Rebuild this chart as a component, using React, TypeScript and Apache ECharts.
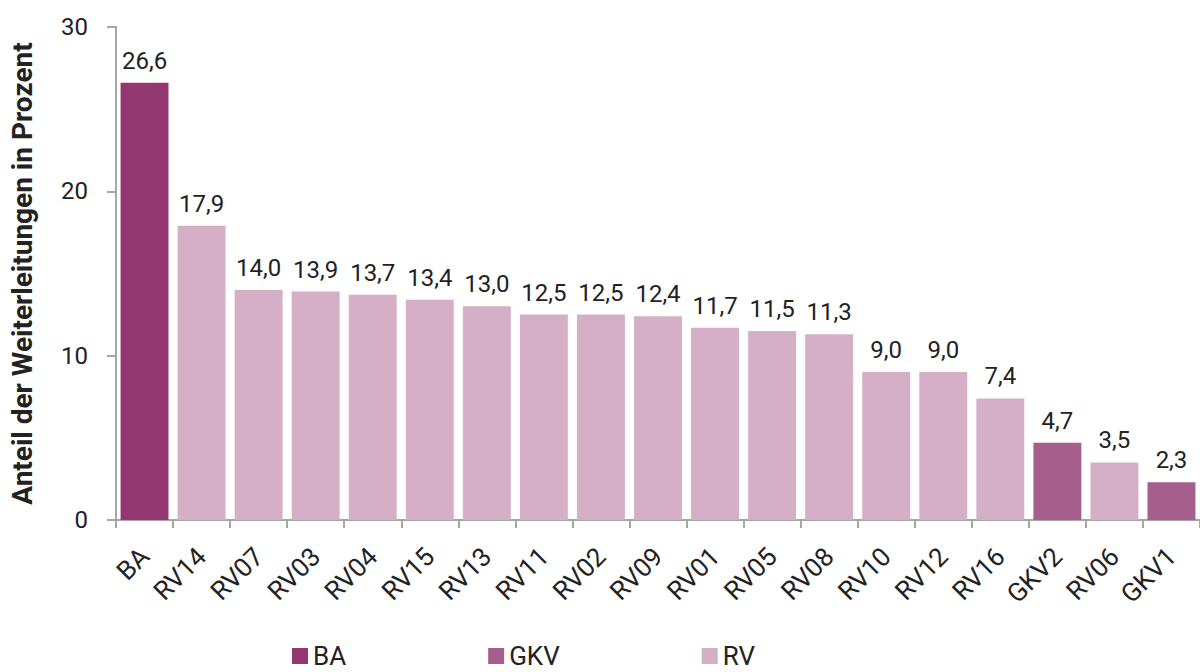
import React, { useEffect, useRef } from "react";
import * as echarts from "echarts";

const categories = ["BA","RV14","RV07","RV03","RV04","RV15","RV13","RV11","RV02","RV09","RV01","RV05","RV08","RV10","RV12","RV16","GKV2","RV06","GKV1"];
const values = [26.6,17.9,14.0,13.9,13.7,13.4,13.0,12.5,12.5,12.4,11.7,11.5,11.3,9.0,9.0,7.4,4.7,3.5,2.3];
const groups = ["BA","RV","RV","RV","RV","RV","RV","RV","RV","RV","RV","RV","RV","RV","RV","RV","GKV","RV","GKV"];
const seriesNames = ["BA","GKV","RV"];
const seriesColors = ["#933771","#a65e8c","#d4afc6"];
const yTicks = [0, 10, 20, 30];

export default function App() {
  const ref = useRef<HTMLDivElement>(null);
  useEffect(() => {
    const chart = echarts.init(ref.current!, null, { renderer: "svg" });
    const font = "Roboto";
    chart.setOption({
      animation: false,
      textStyle: { fontFamily: font },
      grid: { left: 116, top: 27, width: 1090, bottom: 152, containLabel: false },
      legend: {
        data: seriesNames,
        left: 287,
        top: 638,
        itemWidth: 16,
        itemHeight: 16,
        itemGap: 142,
        icon: "rect",
        textStyle: { fontSize: 26, lineHeight: 26, color: "#222", fontFamily: font },
      },
      xAxis: {
        type: "category",
        data: categories,
        axisLine: { lineStyle: { color: "#a6a6a6", width: 2 } },
        axisTick: { show: true, length: 8, lineStyle: { color: "#a6a6a6", width: 2 } },
        axisLabel: { rotate: 45, fontSize: 26, color: "#222", margin: 32, fontFamily: font },
      },
      yAxis: {
        type: "value",
        min: yTicks[0],
        max: yTicks[yTicks.length - 1],
        interval: 10,
        splitLine: { show: false },
        axisLine: { show: true, lineStyle: { color: "#a6a6a6", width: 2 } },
        axisTick: { show: true, length: 9, lineStyle: { color: "#a6a6a6", width: 2 } },
        axisLabel: { fontSize: 24, color: "#222", margin: 28, fontFamily: font },
        name: "Anteil der Weiterleitungen in Prozent",
        nameLocation: "middle",
        nameGap: 80,
        nameTextStyle: { fontSize: 28, fontWeight: "bold", color: "#222", fontFamily: font },
      },
      series: seriesNames.map((name, si) => ({
        name,
        type: "bar",
        stack: "all",
        barCategoryGap: "16%",
        itemStyle: { color: seriesColors[si] },
        label: {
          show: true,
          position: "top",
          distance: 10,
          fontSize: 24,
          color: "#222",
          fontFamily: font,
          formatter: (p: any) => Number(p.value).toFixed(1).replace(".", ","),
        },
        data: values.map((v, i) => (groups[i] === name ? v : "-")),
      })),
    });
    return () => chart.dispose();
  }, []);
  return <div ref={ref} style={{ width: 1200, height: 672, position: "absolute", left: 0, top: 0 }} />;
}
